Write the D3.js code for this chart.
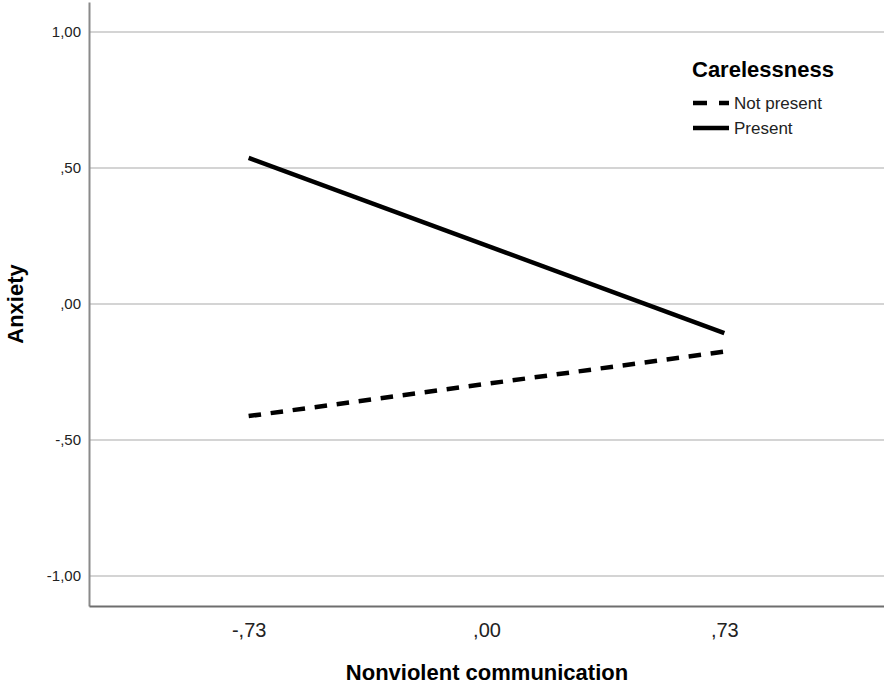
<!DOCTYPE html>
<html>
<head>
<meta charset="utf-8">
<script src="https://cdn.jsdelivr.net/npm/d3@7"></script>
<style>
body { margin: 0; background: #fff; }
svg { display: block; font-family: "Liberation Sans", Arial, sans-serif; }
</style>
</head>
<body>
<svg id="chart" width="884" height="685"></svg>
<script>
const xValues = [-0.73, 0.73];
const xTickLabels = ["-,73", ",00", ",73"];
const xTickValues = [-0.73, 0, 0.73];
const yTickValues = [1, 0.5, 0, -0.5, -1];
const yTickLabels = ["1,00", ",50", ",00", "-,50", "-1,00"];
const seriesNames = ["Not present", "Present"];
const notPresent = [-0.412, -0.175];
const present = [0.537, -0.107];
const legendTitle = "Carelessness";
const xTitle = "Nonviolent communication";
const yTitle = "Anxiety";

const svg = d3.select("#chart");
const x = d3.scaleLinear().domain([-1.22, 1.22]).range([89, 884]);
const y = d3.scaleLinear().domain([-1.11, 1.11]).range([606, 2]);

// gridlines
svg.append("g").selectAll("line").data(yTickValues).join("line")
  .attr("x1", x(-1.22)).attr("x2", x(1.22))
  .attr("y1", d => y(d)).attr("y2", d => y(d))
  .attr("stroke", "#d4d4d4").attr("stroke-width", 2);

// axes
const yAxis = d3.axisLeft(y).tickValues(yTickValues).tickSize(0).tickPadding(8)
  .tickFormat((d, i) => yTickLabels[i]);
const gy = svg.append("g").attr("transform", `translate(${x(-1.22)},0)`).call(yAxis);
gy.select(".domain").attr("stroke", "#8a8a8a").attr("stroke-width", 2);
gy.selectAll("text").attr("font-size", 15).attr("fill", "#222").attr("font-family", "Liberation Sans, Arial, sans-serif");

const xAxis = d3.axisBottom(x).tickValues(xTickValues).tickSize(0).tickPadding(17)
  .tickFormat((d, i) => xTickLabels[i]);
const gx = svg.append("g").attr("transform", `translate(0,${y(-1.11)})`).call(xAxis);
gx.select(".domain").attr("stroke", "#6e6e6e").attr("stroke-width", 2);
gx.selectAll("text").attr("font-size", 20).attr("fill", "#222").attr("font-family", "Liberation Sans, Arial, sans-serif");

// lines
const line = d3.line().x((d, i) => x(xValues[i])).y(d => y(d));
svg.append("path").datum(notPresent).attr("d", line)
  .attr("fill", "none").attr("stroke", "#000").attr("stroke-width", 4.5)
  .attr("stroke-dasharray", "12.5,9.7");
svg.append("path").datum(present).attr("d", line)
  .attr("fill", "none").attr("stroke", "#000").attr("stroke-width", 4.5);

// axis titles
svg.append("text").attr("x", 487).attr("y", 680).attr("text-anchor", "middle")
  .attr("font-size", 22).attr("font-weight", "bold").text(xTitle);
svg.append("text").attr("transform", "translate(23,304) rotate(-90)").attr("text-anchor", "middle")
  .attr("font-size", 22).attr("font-weight", "bold").text(yTitle);

// legend
const lg = svg.append("g");
lg.append("text").attr("x", 692).attr("y", 77).attr("font-size", 22).attr("font-weight", "bold").text(legendTitle);
const items = [{name: seriesNames[0], dash: "14,12"}, {name: seriesNames[1], dash: null}];
items.forEach((it, i) => {
  const yy = 103 + i * 25;
  lg.append("line").attr("x1", 693).attr("x2", 729).attr("y1", yy).attr("y2", yy)
    .attr("stroke", "#000").attr("stroke-width", 4.5)
    .attr("stroke-dasharray", it.dash);
  lg.append("text").attr("x", 734).attr("y", yy + 6).attr("font-size", 17).attr("fill", "#222").text(it.name);
});
</script>
</body>
</html>
